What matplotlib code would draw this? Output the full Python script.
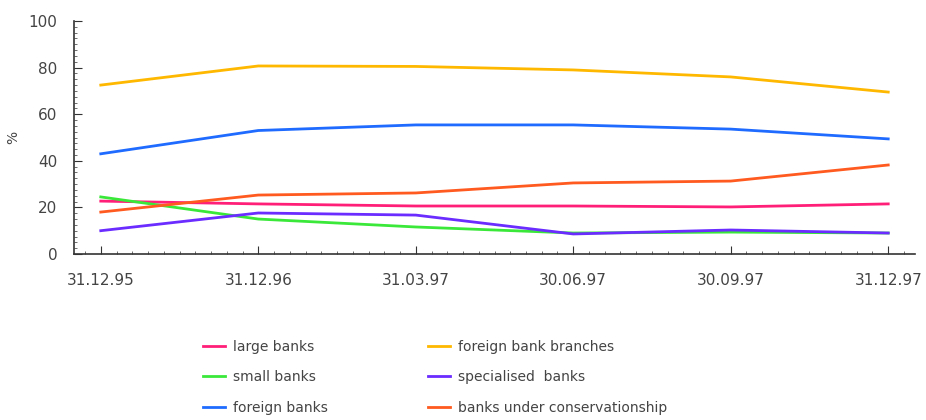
import matplotlib
matplotlib.use("Agg")
import matplotlib.pyplot as plt
from matplotlib.ticker import MultipleLocator

dates = ["31.12.95", "31.12.96", "31.03.97", "30.06.97", "30.09.97", "31.12.97"]

large_banks = [22.7, 21.5, 20.6, 20.6, 20.2, 21.5]
small_banks = [24.5, 15.0, 11.6, 9.0, 9.4, 9.0]
foreign_banks = [43.0, 53.0, 55.4, 55.4, 53.6, 49.4]
foreign_branches = [72.5, 80.7, 80.5, 79.0, 76.0, 69.5]
specialised_banks = [10.0, 17.6, 16.7, 8.6, 10.3, 9.0]
conservationship = [18.0, 25.3, 26.2, 30.5, 31.3, 38.2]

series = [
    ("large banks", large_banks, "#ff1f78"),
    ("small banks", small_banks, "#3ae83a"),
    ("foreign banks", foreign_banks, "#1f6bff"),
    ("foreign bank branches", foreign_branches, "#ffb800"),
    ("specialised  banks", specialised_banks, "#6a2cff"),
    ("banks under conservationship", conservationship, "#ff5a1f"),
]

fig = plt.figure(figsize=(9.26, 4.2), dpi=100)
ax = fig.add_axes([74 / 926, 1 - 254 / 420, (915 - 74) / 926, (254 - 21) / 420])

x = list(range(len(dates)))
handles = []
for label, vals, color in series:
    h, = ax.plot(x, vals, color=color, lw=2, label=label)
    handles.append(h)

ax.set_xlim(-0.17, 5.17)
ax.set_ylim(0, 100)
ax.set_xticks(x)
ax.set_xticklabels(dates)
ax.xaxis.set_minor_locator(MultipleLocator(0.1))
ax.yaxis.set_major_locator(MultipleLocator(20))
ax.yaxis.set_minor_locator(MultipleLocator(2.5))

for s in ("top", "right"):
    ax.spines[s].set_visible(False)
for s in ("left", "bottom"):
    ax.spines[s].set_color("#333333")
    ax.spines[s].set_linewidth(1.2)

ax.tick_params(axis="both", which="major", direction="in", length=6,
               color="#333333", labelsize=11, labelcolor="#444444")
ax.tick_params(axis="both", which="minor", direction="in", length=2.5,
               color="#555555")
ax.tick_params(axis="x", which="major", pad=14)
ax.tick_params(axis="y", which="major", pad=12)
ax.set_ylabel("%", fontsize=10, color="#444444")
ax.yaxis.set_label_coords(-0.064, 0.5)

fig.legend(handles=handles, ncol=2, loc="upper left",
           bbox_to_anchor=(190 / 926, 1 - 327 / 420), frameon=False,
           fontsize=10, labelcolor="#444444", handlelength=1.6,
           handletextpad=0.6, columnspacing=7.2, labelspacing=1.2)

fig.savefig("out.png", dpi=100)
